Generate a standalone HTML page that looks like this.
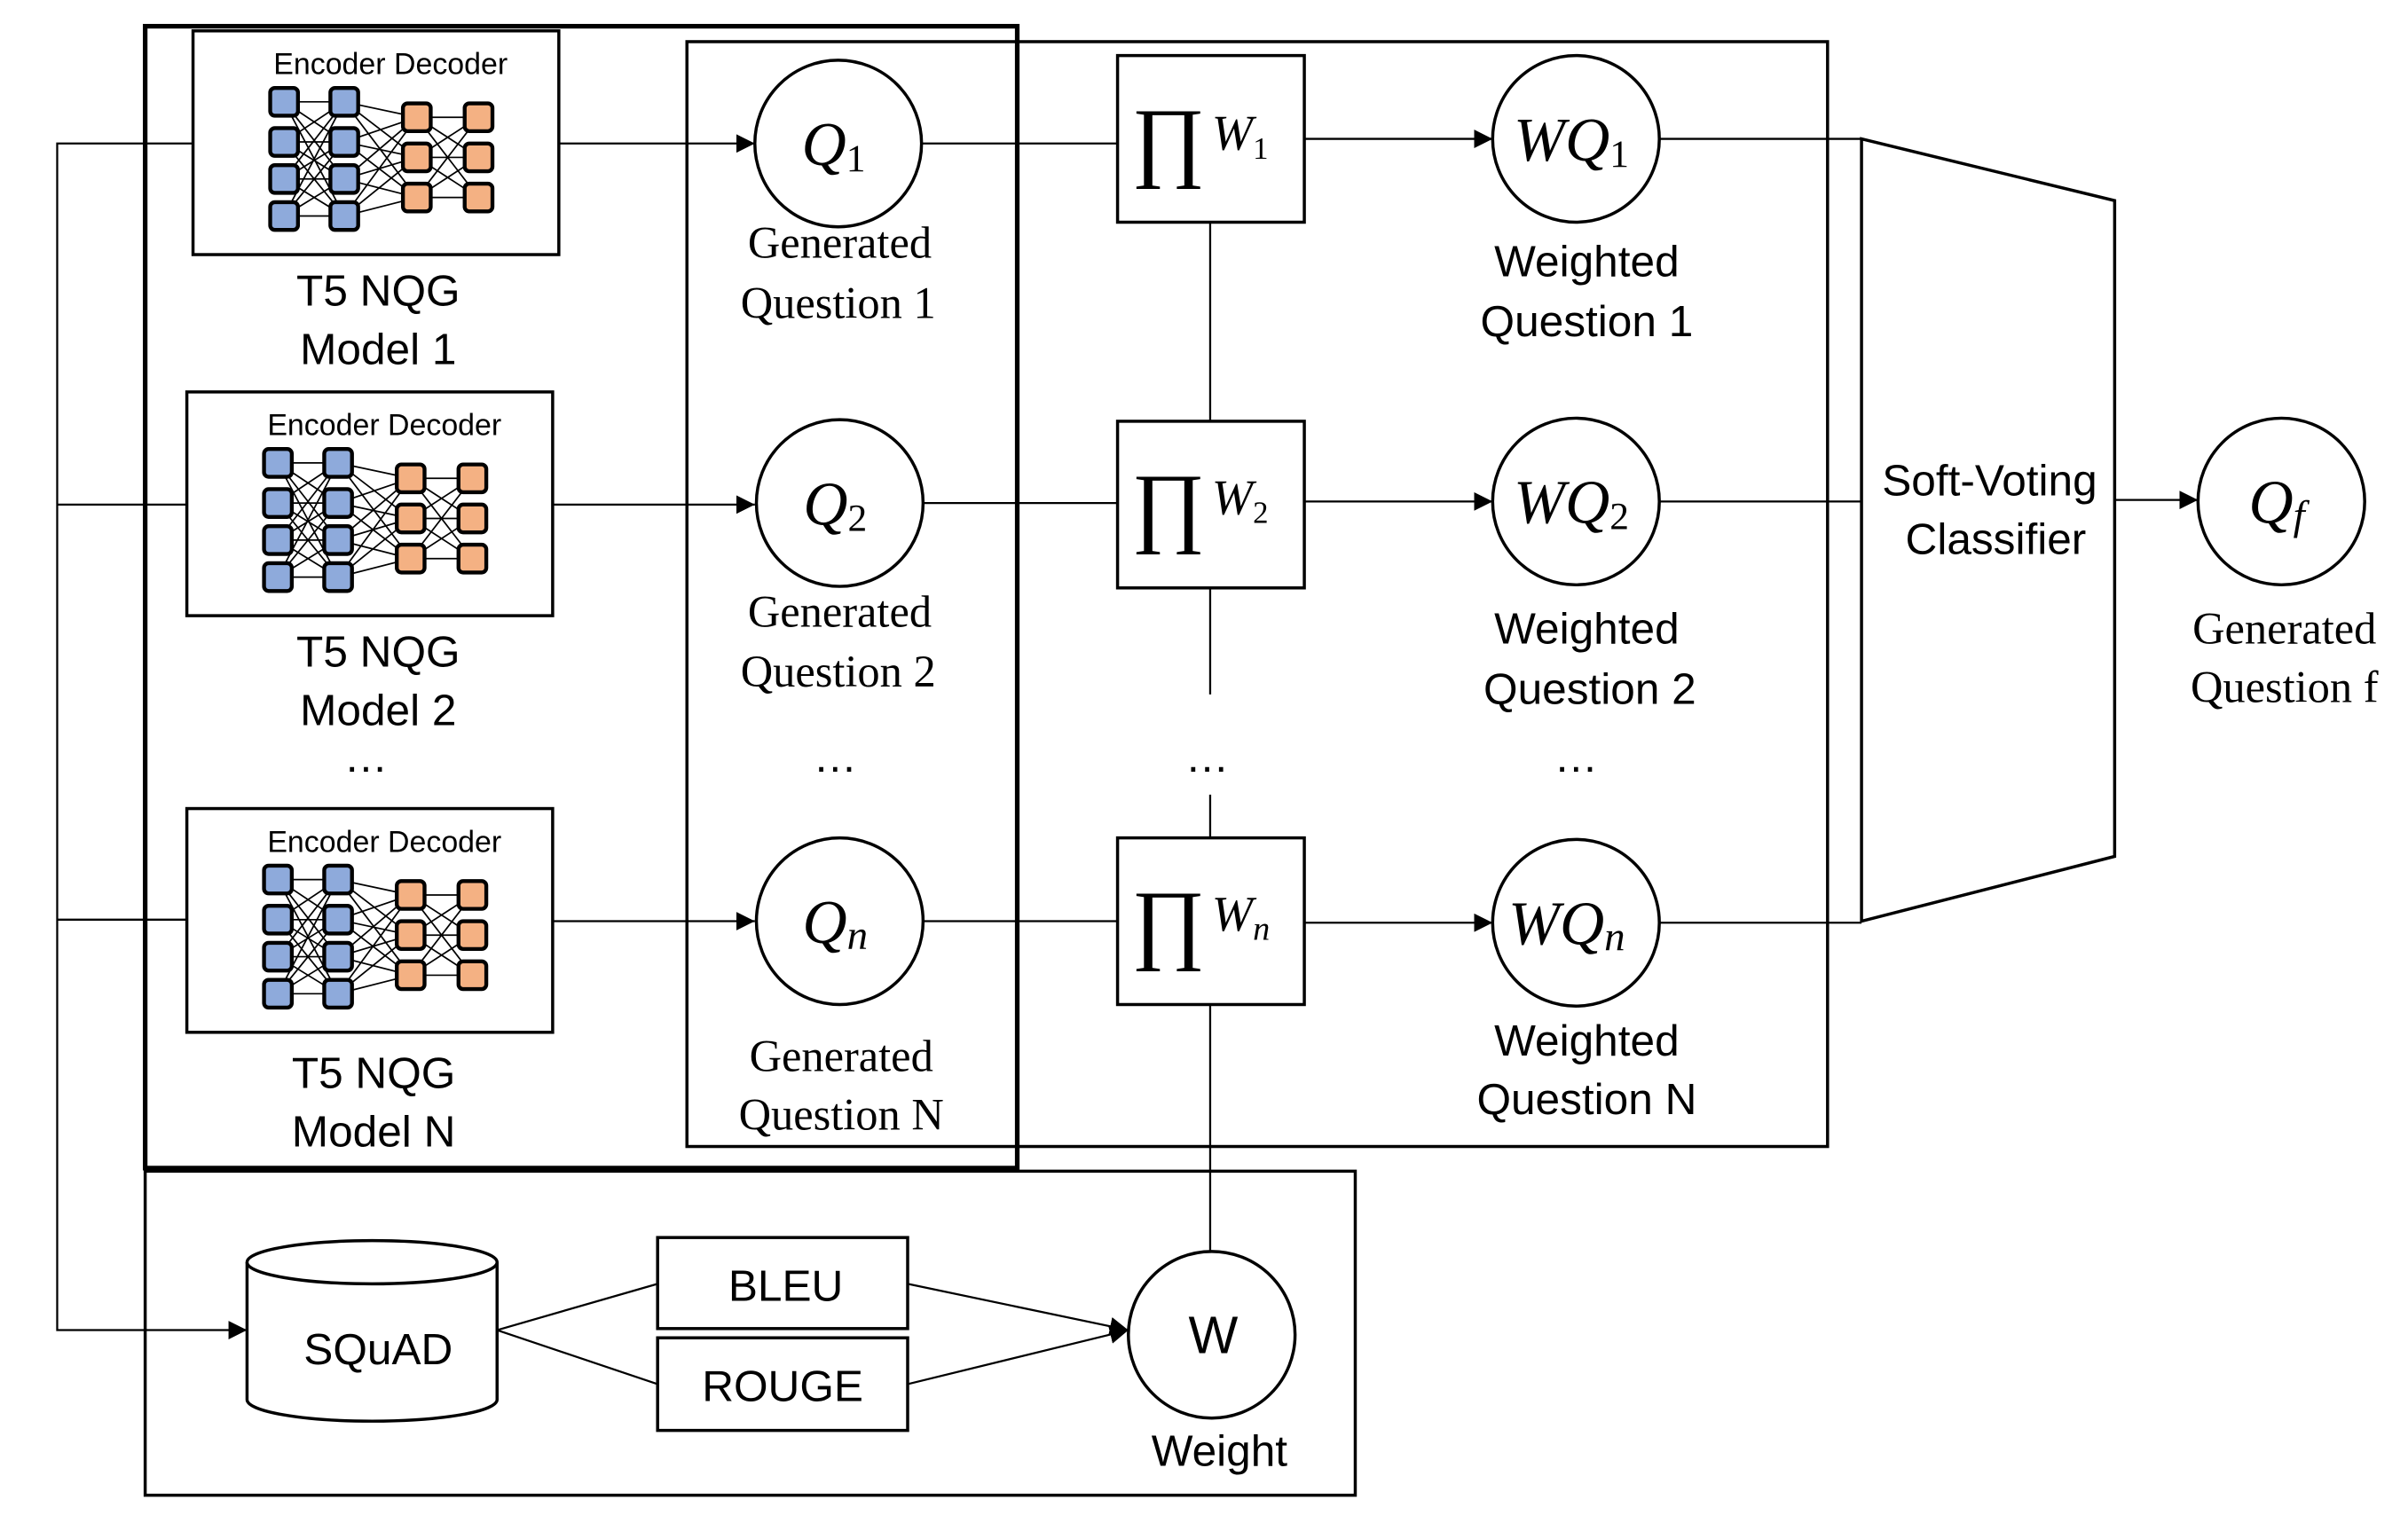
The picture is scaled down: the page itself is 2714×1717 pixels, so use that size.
<!DOCTYPE html>
<html><head><meta charset="utf-8"><style>
html,body{margin:0;padding:0;background:#fff;}
svg{display:block;}
.s{font-family:"Liberation Sans",sans-serif;}
.r{font-family:"Liberation Serif",serif;}
.m{font-family:"Liberation Serif",serif;font-style:italic;}
</style></head><body>
<svg width="2714" height="1717" viewBox="0 0 1560 987" xmlns="http://www.w3.org/2000/svg">
<defs>
<marker id="b" viewBox="0 0 10 10" refX="10" refY="5" markerWidth="12" markerHeight="12" markerUnits="userSpaceOnUse" orient="auto"><path d="M0 0L10 5L0 10z" fill="#000"/></marker>
<g id="ic">
<path fill="none" stroke="#000" stroke-width="1" d="M59 46L98 46M59 46L98 72M59 46L98 96M59 46L98 120M59 72L98 46M59 72L98 72M59 72L98 96M59 72L98 120M59 96L98 46M59 96L98 72M59 96L98 96M59 96L98 120M59 120L98 46M59 120L98 72M59 120L98 96M59 120L98 120M98 46L145 56M98 46L145 82M98 46L145 108M98 72L145 56M98 72L145 82M98 72L145 108M98 96L145 56M98 96L145 82M98 96L145 108M98 120L145 56M98 120L145 82M98 120L145 108M145 56L185 56M145 56L185 82M145 56L185 108M145 82L185 56M145 82L185 82M145 82L185 108M145 108L185 56M145 108L185 82M145 108L185 108"/>
<g fill="#8eaadb" stroke="#000" stroke-width="2.5">
<rect x="50" y="37" width="18" height="18" rx="3"/><rect x="50" y="63" width="18" height="18" rx="3"/><rect x="50" y="87" width="18" height="18" rx="3"/><rect x="50" y="111" width="18" height="18" rx="3"/>
<rect x="89" y="37" width="18" height="18" rx="3"/><rect x="89" y="63" width="18" height="18" rx="3"/><rect x="89" y="87" width="18" height="18" rx="3"/><rect x="89" y="111" width="18" height="18" rx="3"/>
</g>
<g fill="#f4b183" stroke="#000" stroke-width="2.5">
<rect x="136" y="47" width="18" height="18" rx="3"/><rect x="136" y="73" width="18" height="18" rx="3"/><rect x="136" y="99" width="18" height="18" rx="3"/>
<rect x="176" y="47" width="18" height="18" rx="3"/><rect x="176" y="73" width="18" height="18" rx="3"/><rect x="176" y="99" width="18" height="18" rx="3"/>
</g>
</g>
</defs>
<rect width="1560" height="987" fill="#fff"/>
<g fill="none" stroke="#000">
<rect x="94" y="17" width="565" height="740" stroke-width="3"/>
<rect x="445" y="27" width="739" height="716" stroke-width="2"/>
<rect x="94" y="759" width="784" height="210" stroke-width="2"/>
<rect x="125" y="20" width="237" height="145" stroke-width="2"/>
<rect x="121" y="254" width="237" height="145" stroke-width="2"/>
<rect x="121" y="524" width="237" height="145" stroke-width="2"/>
</g>
<use href="#ic" x="125" y="20"/>
<use href="#ic" x="121" y="254"/>
<use href="#ic" x="121" y="524"/>
<g class="s" font-size="19.5" text-anchor="middle">
<text x="253" y="48">Encoder Decoder</text>
<text x="249" y="282">Encoder Decoder</text>
<text x="249" y="552">Encoder Decoder</text>
</g>
<g class="s" font-size="28.5" text-anchor="middle">
<text x="245" y="198">T5 NQG</text><text x="245" y="236">Model 1</text>
<text x="245" y="432">T5 NQG</text><text x="245" y="470">Model 2</text>
<text x="242" y="705">T5 NQG</text><text x="242" y="743">Model N</text>
<text x="1028" y="179">Weighted</text><text x="1028" y="218">Question 1</text>
<text x="1028" y="417">Weighted</text><text x="1030" y="456">Question 2</text>
<text x="1028" y="684">Weighted</text><text x="1028" y="722">Question N</text>
<text x="790" y="950">Weight</text>
<text x="237" y="500">…</text><text x="541" y="500">…</text><text x="782" y="500">…</text><text x="1021" y="500">…</text>
</g>
<g class="r" font-size="29" text-anchor="middle">
<text x="544" y="167">Generated</text><text x="543" y="206">Question 1</text>
<text x="544" y="406">Generated</text><text x="543" y="445">Question 2</text>
<text x="545" y="694">Generated</text><text x="545" y="732">Question N</text>
<text x="1480" y="417">Generated</text><text x="1480" y="455">Question f</text>
</g>
<g fill="none" stroke="#000" stroke-width="1.3">
<path d="M125 93H37V862H160" marker-end="url(#b)"/>
<path d="M37 327H121M37 596H121"/>
<path d="M362 93H489" marker-end="url(#b)"/>
<path d="M358 327H489" marker-end="url(#b)"/>
<path d="M358 597H489" marker-end="url(#b)"/>
<path d="M597 93H724M598 326H724M598 597H724"/>
<path d="M845 90H967" marker-end="url(#b)"/>
<path d="M845 325H967" marker-end="url(#b)"/>
<path d="M845 598H967" marker-end="url(#b)"/>
<path d="M1075 90H1206M1075 325H1206M1075 598H1206"/>
<path d="M1370 324H1424" marker-end="url(#b)"/>
<path d="M784 144V273M784 381V450M784 515V543M784 651V811"/>
<path d="M322 862L426 832M322 862L426 897"/>
<path d="M588 832L731 862" marker-end="url(#b)"/>
<path d="M588 897L731 862" marker-end="url(#b)"/>
</g>
<g fill="#fff" stroke="#000" stroke-width="2">
<circle cx="543" cy="93" r="54"/><circle cx="544" cy="326" r="54"/><circle cx="544" cy="597" r="54"/>
<circle cx="1021" cy="90" r="54"/><circle cx="1021" cy="325" r="54"/><circle cx="1021" cy="598" r="54"/>
<circle cx="1478" cy="325" r="54"/><circle cx="785" cy="865" r="54"/>
<rect x="724" y="36" width="121" height="108"/><rect x="724" y="273" width="121" height="108"/><rect x="724" y="543" width="121" height="108"/>
<rect x="426" y="802" width="162" height="59"/><rect x="426" y="867" width="162" height="60"/>
<polygon points="1206,90 1370,130 1370,555 1206,597"/>
<path d="M160 818V907A81 14 0 0 0 322 907V818"/>
<ellipse cx="241" cy="818" rx="81" ry="14"/>
</g>
<g class="s" font-size="28.5" text-anchor="middle">
<text x="1289" y="321">Soft-Voting</text><text x="1293" y="359">Classifier</text>
<text x="245" y="884">SQuAD</text>
<text x="509" y="843">BLEU</text>
<text x="507" y="908">ROUGE</text>
<text x="786" y="877" font-size="34">W</text>
</g>
<g class="m" font-size="40" text-anchor="middle">
<text x="540" y="107">Q<tspan font-size="25" font-style="normal" dy="4">1</tspan></text>
<text x="541" y="340">Q<tspan font-size="25" font-style="normal" dy="4">2</tspan></text>
<text x="541" y="611">Q<tspan font-size="27" dy="4">n</tspan></text>
<text x="1018" y="104">WQ<tspan font-size="25" font-style="normal" dy="4">1</tspan></text>
<text x="1018" y="339">WQ<tspan font-size="25" font-style="normal" dy="4">2</tspan></text>
<text x="1015" y="612">WQ<tspan font-size="27" dy="4">n</tspan></text>
<text x="1475" y="339">Q<tspan font-size="27" dy="4">f</tspan></text>
</g>
<g class="r" font-size="58">
<text x="733" y="110">∏</text><text x="733" y="347">∏</text><text x="733" y="617">∏</text>
</g>
<g class="m" font-size="32">
<text x="785" y="97">W<tspan font-size="20" font-style="normal" dy="6">1</tspan></text>
<text x="785" y="333">W<tspan font-size="20" font-style="normal" dy="6">2</tspan></text>
<text x="785" y="603">W<tspan font-size="22" dy="6">n</tspan></text>
</g>
</svg>
</body></html>
